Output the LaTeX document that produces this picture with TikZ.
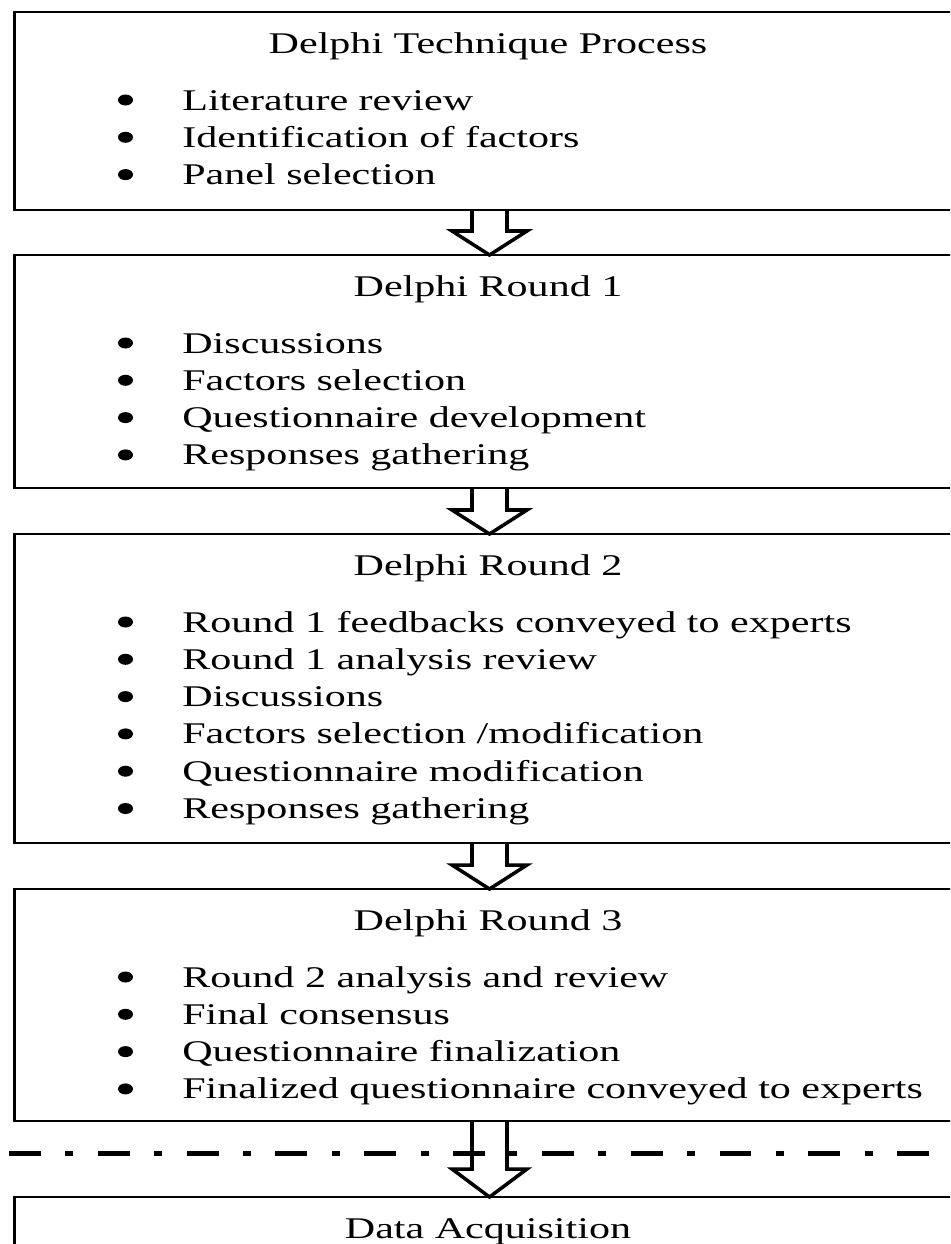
\documentclass[tikz,border=0pt]{standalone}
\usepackage{fontspec}
\setmainfont[FakeStretch=1.4]{Liberation Serif}
\usetikzlibrary{calc}

\begin{document}
\begin{tikzpicture}[x=0.02cm, y=-0.02cm,
    box/.style={draw, line width=1.4pt, inner sep=0pt, outer sep=0pt, anchor=north west, minimum width=19.2cm},
    txt/.style={inner sep=0pt, font=\fontsize{17.1pt}{20pt}\selectfont},
    blockarrow/.style={line width=2pt, line join=miter}]
  \useasboundingbox (0,0) rectangle (950,1244);
  \clip (0,0) rectangle (950,1244);
  \coordinate (axis) at (489.5,0);

  % boxes
  \node[box, minimum height=3.96cm] (r1) at (14.5,12) {};
  \node[box, minimum height=4.66cm] (r2) at (14.5,255) {};
  \node[box, minimum height=6.18cm] (r3) at (14.5,534) {};
  \node[box, minimum height=4.64cm] (r4) at (14.5,889) {};
  \node[box, minimum height=1.60cm] (r5) at (14.5,1197) {};

  % titles
  \node[txt, anchor=base] (r1t) at (488,53) {Delphi Technique Process};
  \node[txt, anchor=base] (r2t) at (488,296) {Delphi Round 1};
  \node[txt, anchor=base] (r3t) at (488,575) {Delphi Round 2};
  \node[txt, anchor=base] (r4t) at (488,930) {Delphi Round 3};
  \node[txt, anchor=base] (r5t) at (488,1238) {Data Acquisition};

  % bullet lists
  \foreach \i/\item in {1/Literature review, 2/Identification of factors, 3/Panel selection}
    \node[txt, anchor=base west] (r1i\i) at (182,{110+(\i-1)*37.3}) {\item};
  \foreach \i/\item in {1/Discussions, 2/Factors selection, 3/Questionnaire development, 4/Responses gathering}
    \node[txt, anchor=base west] (r2i\i) at (182,{353+(\i-1)*37.3}) {\item};
  \foreach \i/\item in {1/Round 1 feedbacks conveyed to experts, 2/Round 1 analysis review, 3/Discussions,
                        4/{Factors selection /modification}, 5/Questionnaire modification, 6/Responses gathering}
    \node[txt, anchor=base west] (r3i\i) at (182,{632+(\i-1)*37.3}) {\item};
  \foreach \i/\item in {1/Round 2 analysis and review, 2/Final consensus, 3/Questionnaire finalization,
                        4/Finalized questionnaire conveyed to experts}
    \node[txt, anchor=base west] (r4i\i) at (182,{987+(\i-1)*37.3}) {\item};

  \foreach \y/\n in {110/3, 353/4, 632/6, 987/4}
    \foreach \i in {1,...,\n}
      \fill (125.5,{\y-10+(\i-1)*37.3}) ellipse [x radius=7.5, y radius=5.5];

  % arrows between the boxes
  \foreach \a/\b/\h in {r1/r2/24, r2/r3/24, r3/r4/24, r4/r5/28}
    \draw[blockarrow] ($(\a.south -| axis)+(-17.5,0)$) -- ($(\b.north -| axis)+(-17.5,-\h)$)
      -- ($(\b.north -| axis)+(-37.5,-\h)$) -- (\b.north -| axis)
      -- ($(\b.north -| axis)+(37.5,-\h)$) -- ($(\b.north -| axis)+(17.5,-\h)$)
      -- ($(\a.south -| axis)+(17.5,0)$);

  % dash-dot separator
  \draw[line width=2.85pt, dash pattern=on 18.2pt off 13.9pt on 4.55pt off 13.9pt] (9,1153) -- (935,1153);
\end{tikzpicture}
\end{document}
